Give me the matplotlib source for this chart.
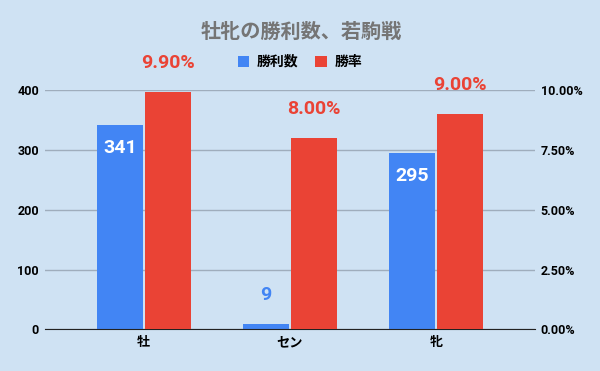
import matplotlib
matplotlib.use("Agg")
import matplotlib.pyplot as plt
import numpy as np
from matplotlib.ticker import FuncFormatter

plt.rcParams['font.family'] = ['Roboto', 'Noto Sans CJK JP', 'DejaVu Sans']

categories = ['牡', 'セン', '牝']
wins = [341, 9, 295]
win_rate = [0.099, 0.080, 0.090]
series_names = ['勝利数', '勝率']

blue = '#4285F4'
red = '#EA4335'
bg = '#CFE2F3'

fig = plt.figure(figsize=(6, 3.71), dpi=100, facecolor=bg)
ax = fig.add_axes([0.075, 0.1119, 0.8167, 0.6456])
ax.set_facecolor(bg)
ax2 = ax.twinx()

x = np.arange(len(categories))
width = 0.314
off = 0.164

b1 = ax.bar(x - off, wins, width, color=blue, label=series_names[0], zorder=3)
b2 = ax2.bar(x + off, win_rate, width, color=red, label=series_names[1], zorder=3)

ax.set_ylim(0, 400)
ax2.set_ylim(0, 0.1)
ax.set_xlim(-0.676, 2.676)
ax.set_yticks([0, 100, 200, 300, 400])
ax2.set_yticks([0, 0.025, 0.05, 0.075, 0.1])
ax2.yaxis.set_major_formatter(FuncFormatter(lambda v, p: f'{v*100:.2f}%'))

ax.grid(axis='y', color='#9FADBC', linewidth=1, zorder=0)
for a in (ax, ax2):
    for s in a.spines.values():
        s.set_visible(False)
    a.tick_params(length=0, labelsize=9)
ax.spines['bottom'].set_visible(True)
ax.spines['bottom'].set_color('#222222')
ax.spines['bottom'].set_zorder(5)
ax.tick_params(axis='y', pad=4.3)
ax2.tick_params(axis='y', pad=4)
for lab in ax.get_yticklabels() + ax2.get_yticklabels():
    lab.set_fontweight('bold')

ax.set_xticks(x)
ax.set_xticklabels(categories, fontsize=9.5, fontweight='bold')
ax.tick_params(axis='x', pad=5)

# data labels
for xi, v in zip(x, wins):
    if v > 50:
        ax.annotate(str(v), (xi - off, v), xytext=(0, -20), textcoords='offset points',
                    ha='center', va='baseline', color='white', fontsize=14, fontweight='bold')
    else:
        ax.annotate(str(v), (xi - off, v), xytext=(0, 17.3), textcoords='offset points',
                    ha='center', va='baseline', color=blue, fontsize=14, fontweight='bold')
for xi, v in zip(x, win_rate):
    ax2.annotate(f'{v*100:.2f}%', (xi + off, v), xytext=(0, 17.3), textcoords='offset points',
                 ha='center', va='baseline', color=red, fontsize=14, fontweight='bold',
                 annotation_clip=False)

fig.text(0.502, 0.914, '牡牝の勝利数、若駒戦', ha='center', va='center',
         fontsize=14.5, fontweight='bold', color='#757575')

h1, l1 = ax.get_legend_handles_labels()
h2, l2 = ax2.get_legend_handles_labels()
fig.legend(h1 + h2, l1 + l2, loc='center', bbox_to_anchor=(0.5, 0.833), ncol=2,
           frameon=False, handlelength=0.85, handleheight=0.85, handletextpad=0.55,
           columnspacing=1.2, prop={'weight': 'bold', 'size': 10})

fig.savefig('out.png', dpi=100, facecolor=bg)
